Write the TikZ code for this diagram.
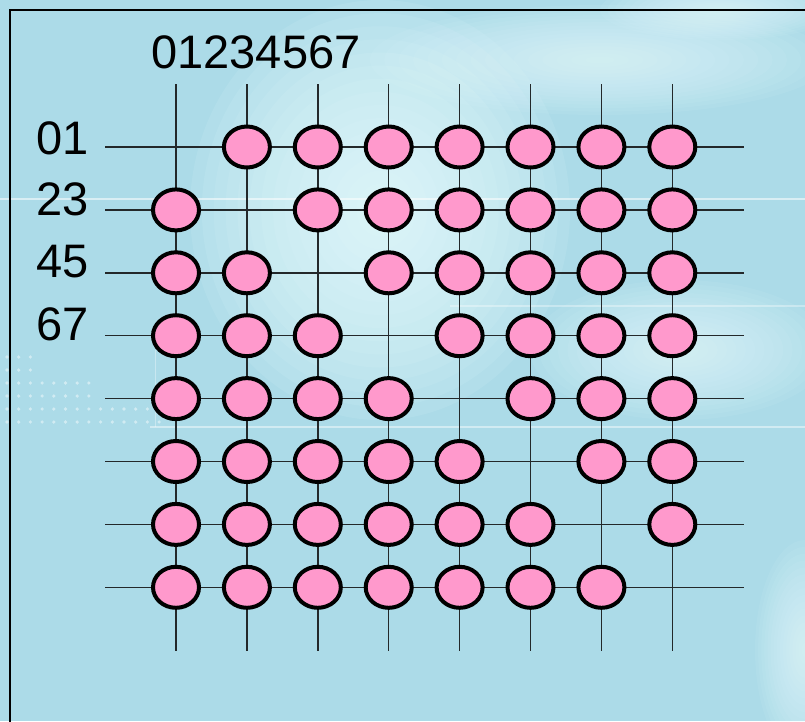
\documentclass[tikz,border=0pt]{standalone}
\usepackage{fontspec}
\setmainfont{Liberation Sans}
\usetikzlibrary{shapes.geometric}
\definecolor{bgblue}{RGB}{172,219,232}
\definecolor{bglight}{RGB}{232,253,255}
\definecolor{pinkfill}{RGB}{255,153,204}
\definecolor{gridgray}{RGB}{35,40,42}
\begin{document}
\begin{tikzpicture}[x=1pt,y=-1pt,
  bead/.style={ellipse,draw=black,line width=4pt,fill=pinkfill,minimum width=46pt,minimum height=41pt,inner sep=0pt},
  gridline/.style={draw=gridgray,line width=1.4pt},
  lbl/.style={font=\fontsize{47}{47}\selectfont,inner sep=0pt,text=black},
  streak/.style={draw=white,opacity=0.55,line width=1.6pt},
  glow/.style={fill=bglight,opacity=0.07},
  frameline/.style={draw=black,line width=2.8pt}]
% background
\useasboundingbox (0,0) rectangle (805,721);
\fill[bgblue] (0,0) rectangle (805,721);
\foreach \i in {1,...,16}{
  \fill[fill=bglight,opacity=0.1] (380,210) ellipse ({190*\i/16} and {210*\i/16});
}
\foreach \cx/\cy/\rx/\ry in {600/60/230/55, 720/10/120/30, 680/350/150/70, 805/650/50/110}{
  \foreach \i in {1,...,16}{
    \fill[glow] (\cx,\cy) ellipse ({\rx*\i/16} and {\ry*\i/16});
  }
}
% streaks
\draw[streak] (0,199) -- (805,199);
\draw[streak,opacity=0.35] (450,306) -- (805,306);
\draw[streak,opacity=0.45] (150,427) -- (805,427);
\draw[streak,opacity=0.35,line width=1pt] (155,350) -- (155,427);
% dots
\foreach \r/\n in {0/3,1/3,2/8,3/8,4/14,5/14}{
  \foreach \k in {1,...,\n}{
    \fill[white,opacity=0.45] ({7+11.7*(\k-1)},{357+13*\r}) circle (1.8);
  }
}
% frame
\coordinate (fbl) at (10,730);
\coordinate (ftl) at (10,10);
\coordinate (ftr) at (815,10);
\draw[frameline] (fbl) -- (ftl) -- (ftr);
% grid lines
\foreach \c in {0,...,7}{
  \coordinate (vt\c) at ({176+70.9*\c},84);
  \coordinate (vb\c) at ({176+70.9*\c},651);
  \draw[gridline] (vt\c) -- (vb\c);
}
\foreach \r in {0,...,7}{
  \coordinate (hl\r) at (105,{147+62.9*\r});
  \coordinate (hr\r) at (744,{147+62.9*\r});
  \draw[gridline] (hl\r) -- (hr\r);
}
% beads
\foreach \r in {0,...,7}{
  \foreach \c in {0,...,7}{
    \ifnum\r=\c\relax\else
      \node[bead] (e-\r-\c) at ({176+70.9*\c},{147+62.9*\r}) {};
    \fi
  }
}
% labels
\node[lbl] (top) at (256,52) {01234567};
\node[lbl,anchor=east] (l01) at (89,138) {01};
\node[lbl,anchor=east] (l23) at (89,199.5) {23};
\node[lbl,anchor=east] (l45) at (89,262) {45};
\node[lbl,anchor=east] (l67) at (89,324.5) {67};
\end{tikzpicture}
\end{document}
